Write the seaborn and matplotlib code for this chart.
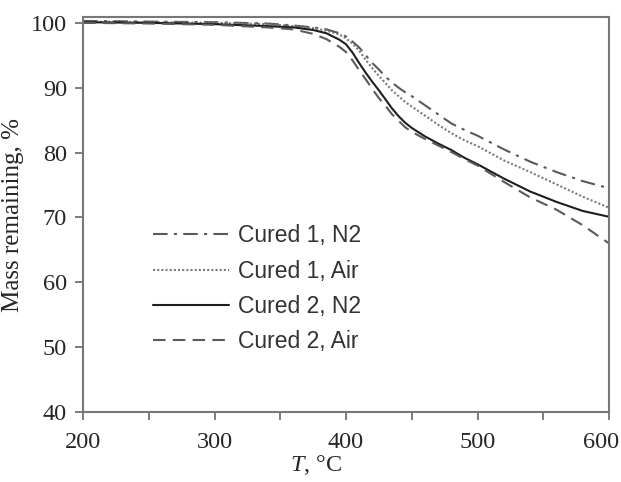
import pandas as pd
import matplotlib.pyplot as plt
import matplotlib.transforms as mtransforms
import seaborn as sns

# Temperature grid (deg C) and mass remaining (%)
temp = [200, 250, 300, 340, 360, 375, 385, 395, 400, 405, 410, 415, 420, 425,
        430, 435, 440, 445, 450, 460, 470, 480, 490, 500, 520, 540, 560, 580, 600]

cured1_n2 = [100.3, 100.2, 100.1, 99.9, 99.6, 99.3, 99.0, 98.4, 97.9, 97.1, 96.2, 95.0, 93.8, 92.8,
             91.7, 90.8, 90.0, 89.3, 88.7, 87.3, 85.9, 84.5, 83.5, 82.6, 80.5, 78.6, 77.0, 75.6, 74.5]
cured1_air = [100.2, 100.1, 100.0, 99.8, 99.5, 99.2, 98.8, 98.2, 97.6, 96.8, 95.7, 94.3, 93.0, 91.8,
              90.7, 89.6, 88.7, 87.8, 87.1, 85.7, 84.3, 83.0, 81.9, 81.0, 78.8, 77.0, 75.1, 73.2, 71.5]
cured2_n2 = [100.1, 100.0, 99.8, 99.5, 99.3, 98.9, 98.4, 97.4, 96.7, 95.4, 93.8, 92.3, 90.9, 89.6,
             88.2, 86.8, 85.6, 84.6, 83.8, 82.5, 81.4, 80.4, 79.2, 78.2, 76.0, 74.0, 72.4, 71.0, 70.1]
cured2_air = [100.0, 99.9, 99.7, 99.3, 99.0, 98.3, 97.5, 96.3, 95.5, 94.2, 92.7, 91.3, 89.8, 88.4,
              87.2, 85.9, 84.9, 83.9, 83.2, 82.1, 81.1, 80.1, 79.0, 78.0, 75.5, 73.1, 71.2, 68.8, 66.0]

labels = ["Cured 1, N2", "Cured 1, Air", "Cured 2, N2", "Cured 2, Air"]
series = [cured1_n2, cured1_air, cured2_n2, cured2_air]

df = pd.concat([pd.DataFrame({"T": temp, "mass": s, "sample": lab})
                for lab, s in zip(labels, series)], ignore_index=True)

sns.set_style("white")
plt.rcParams["font.family"] = ["Liberation Serif", "DejaVu Serif"]
plt.rcParams["mathtext.fontset"] = "custom"
plt.rcParams["mathtext.it"] = "Liberation Serif:italic"
plt.rcParams["mathtext.rm"] = "Liberation Serif"

fig = plt.figure(figsize=(6.21, 4.82), dpi=100)
ax = fig.add_axes([0.1337, 0.1452, 0.847, 0.8195])

palette = {"Cured 1, N2": "#5a5a5a", "Cured 1, Air": "#7a7a7a",
           "Cured 2, N2": "#1e1e1e", "Cured 2, Air": "#5a5a5a"}
dashes = {"Cured 1, N2": (7, 3, 1.5, 3), "Cured 1, Air": (1, 1),
          "Cured 2, N2": "", "Cured 2, Air": (6, 3.5)}

sns.lineplot(data=df, x="T", y="mass", hue="sample", style="sample",
             palette=palette, dashes=dashes, linewidth=1.5, ax=ax)

ax.set_xlim(200, 600)
ax.set_ylim(40, 100.9)
ax.set_xticks(range(200, 601, 50))
ax.set_xticklabels([str(t) if t % 100 == 0 else "" for t in range(200, 601, 50)])
ax.set_yticks(range(40, 101, 10))

ax.tick_params(axis="both", direction="out", length=5.5, width=1.2, color="#666666",
               labelsize=17.5, bottom=True, left=True)
ax.tick_params(axis="x", pad=9)
ax.tick_params(axis="y", pad=6)
for sp in ax.spines.values():
    sp.set_color("#777777")
    sp.set_linewidth(1.5)

# last x label sits a little left so it stays inside the figure
shift = mtransforms.ScaledTranslation(-8 / 100, 0, fig.dpi_scale_trans)
last = ax.get_xticklabels()[-1]
last.set_transform(last.get_transform() + shift)

ax.set_ylabel("Mass remaining, %", fontsize=18, labelpad=5)
ax.set_xlabel("$T$, °C", fontsize=17.5, labelpad=0)
ax.xaxis.set_label_coords(0.443, -0.103)

leg = ax.legend(loc="upper left", bbox_to_anchor=(0.094, 0.527), frameon=False,
                handlelength=3.3, labelspacing=0.53, handletextpad=0.4,
                prop={"family": "Liberation Sans", "size": 16.5})
for t in leg.get_texts():
    t.set_color("#333333")

plt.savefig("out.png", dpi=100)
